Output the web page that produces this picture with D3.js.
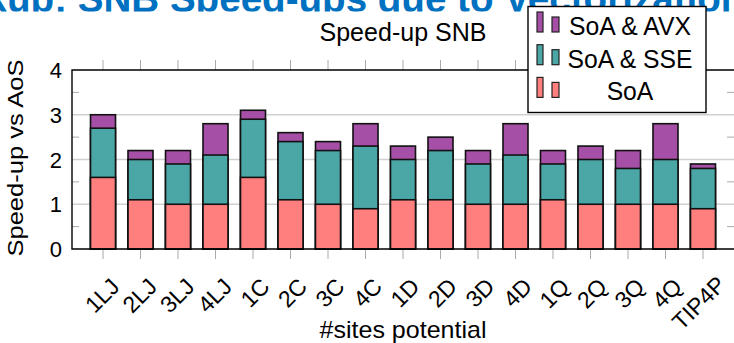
<!DOCTYPE html>
<html>
<head>
<meta charset="utf-8">
<script src="https://cdn.jsdelivr.net/npm/d3@7"></script>
<style>
  body { margin: 0; background: #fff; }
  text { font-family: "Liberation Sans", Arial, sans-serif; }
</style>
</head>
<body>
<div id="chart"></div>
<script>
// data
const categories = ["1LJ", "2LJ", "3LJ", "4LJ", "1C", "2C", "3C", "4C", "1D", "2D", "3D", "4D", "1Q", "2Q", "3Q", "4Q", "TIP4P"];
const soa    = [1.6, 1.1, 1.0, 1.0, 1.6, 1.1, 1.0, 0.9, 1.1, 1.1, 1.0, 1.0, 1.1, 1.0, 1.0, 1.0, 0.9];
const soaSse = [2.7, 2.0, 1.9, 2.1, 2.9, 2.4, 2.2, 2.3, 2.0, 2.2, 1.9, 2.1, 1.9, 2.0, 1.8, 2.0, 1.8];
const soaAvx = [3.0, 2.2, 2.2, 2.8, 3.1, 2.6, 2.4, 2.8, 2.3, 2.5, 2.2, 2.8, 2.2, 2.3, 2.2, 2.8, 1.9];
const yTicks = [0, 1, 2, 3, 4];
const seriesNames = ["SoA & AVX", "SoA & SSE", "SoA"];
const colors = ["#a64fa6", "#4ba6a6", "#ff7f7f"];

const width = 734, height = 343;
const plotLeft = 72, plotRight = 734, plotTop = 70, plotBottom = 249;

const svg = d3.select("#chart").append("svg")
  .attr("width", width)
  .attr("height", height);

// slide heading peeking in at the top (covered by the chart below y=11)
svg.append("clipPath").attr("id", "headclip")
  .append("rect").attr("x", 0).attr("y", 0).attr("width", width).attr("height", 11.5);
const head = svg.append("text")
  .attr("clip-path", "url(#headclip)")
  .attr("y", 12)
  .attr("fill", "#0070c0")
  .style("font-weight", "bold")
  .style("font-size", "100px")
  .text("SNB Speed-ups due to Vectorization");
const wRef = head.node().getComputedTextLength();
const headSize = 100 * 667 / wRef;
head.style("font-size", headSize + "px").text("kup: ");
const wKup = head.node().getComputedTextLength();
head.attr("x", 67 - wKup)
  .text("kup: SNB Speed-ups due to Vectorization");

const x = d3.scalePoint()
  .domain(categories)
  .range([plotLeft, plotRight])
  .padding(0.827);

const y = d3.scaleLinear()
  .domain([0, 4])
  .range([plotBottom, plotTop]);

const barW = 25;

// grid lines
svg.append("g")
  .selectAll("line")
  .data([1, 2, 3])
  .join("line")
  .attr("x1", plotLeft).attr("x2", plotRight)
  .attr("y1", d => y(d)).attr("y2", d => y(d))
  .attr("stroke", "#d0d0d0")
  .attr("stroke-width", 1.5);

// minor ticks left and right
const minor = [0.5, 1.5, 2.5, 3.5];
svg.append("g")
  .selectAll("line")
  .data(minor)
  .join("line")
  .attr("x1", plotLeft).attr("x2", plotLeft + 7)
  .attr("y1", d => y(d)).attr("y2", d => y(d))
  .attr("stroke", "#aaaaaa");
svg.append("g")
  .selectAll("line")
  .data(minor)
  .join("line")
  .attr("x1", plotRight - 7).attr("x2", plotRight)
  .attr("y1", d => y(d)).attr("y2", d => y(d))
  .attr("stroke", "#aaaaaa");

// x ticks top and bottom (outside)
svg.append("g")
  .selectAll("line")
  .data(categories)
  .join("line")
  .attr("x1", d => x(d)).attr("x2", d => x(d))
  .attr("y1", plotTop - 10).attr("y2", plotTop)
  .attr("stroke", "#aaaaaa");
svg.append("g")
  .selectAll("line")
  .data(categories)
  .join("line")
  .attr("x1", d => x(d)).attr("x2", d => x(d))
  .attr("y1", plotBottom).attr("y2", plotBottom + 10)
  .attr("stroke", "#aaaaaa");

// bars: drawn tallest first so the borders show
const series = [soaAvx, soaSse, soa];
series.forEach(function(vals, k) {
  svg.append("g")
    .selectAll("rect")
    .data(categories)
    .join("rect")
    .attr("x", d => x(d) - barW / 2)
    .attr("y", (d, i) => y(vals[i]))
    .attr("width", barW)
    .attr("height", (d, i) => y(0) - y(vals[i]))
    .attr("fill", colors[k])
    .attr("stroke", "#111")
    .attr("stroke-width", 1.6);
});

// frame
svg.append("path")
  .attr("d", `M${plotRight},${plotTop}H${plotLeft}V${plotBottom}H${plotRight}`)
  .attr("fill", "none")
  .attr("stroke", "#000")
  .attr("stroke-width", 1.4);

// y tick labels
svg.append("g")
  .selectAll("text")
  .data(yTicks)
  .join("text")
  .attr("x", 62)
  .attr("y", d => y(d) + 8)
  .attr("text-anchor", "end")
  .style("font-size", "22px")
  .text(d => d);

// x tick labels, rotated
svg.append("g")
  .selectAll("text")
  .data(categories)
  .join("text")
  .attr("text-anchor", "end")
  .attr("transform", d => {
    const last = d === "TIP4P";
    return `translate(${x(d) + 18 + (last ? 6 : 0)},${288 - (last ? 2 : 0)}) rotate(-45)`;
  })
  .style("font-size", "23px")
  .text(d => d);

// axis titles
svg.append("text")
  .attr("x", 403).attr("y", 338)
  .attr("text-anchor", "middle")
  .attr("textLength", 167).attr("lengthAdjust", "spacingAndGlyphs")
  .style("font-size", "24px")
  .text("#sites potential");

svg.append("text")
  .attr("transform", "translate(23,158) rotate(-90)")
  .attr("text-anchor", "middle")
  .attr("textLength", 197).attr("lengthAdjust", "spacingAndGlyphs")
  .style("font-size", "22px")
  .text("Speed-up vs AoS");

svg.append("text")
  .attr("x", 403).attr("y", 41)
  .attr("text-anchor", "middle")
  .attr("textLength", 167).attr("lengthAdjust", "spacingAndGlyphs")
  .style("font-size", "25px")
  .text("Speed-up SNB");

// legend
const legend = svg.append("g");
legend.append("rect")
  .attr("x", 528).attr("y", 6.5)
  .attr("width", 178).attr("height", 106)
  .attr("fill", "#fff")
  .attr("stroke", "#000")
  .attr("stroke-width", 1.4);

const rows = legend.selectAll("g.row")
  .data(seriesNames)
  .join("g")
  .attr("class", "row")
  .attr("transform", (d, i) => `translate(0,${32 + i * 32.7})`);

rows.append("rect")
  .attr("x", 537).attr("y", -20)
  .attr("width", 6).attr("height", 20)
  .attr("fill", (d, i) => colors[i])
  .attr("stroke", "#222").attr("stroke-width", 1.2);
rows.append("rect")
  .attr("x", 552).attr("y", -15)
  .attr("width", 7).attr("height", 15)
  .attr("fill", (d, i) => colors[i])
  .attr("stroke", "#222").attr("stroke-width", 1.2);
rows.append("text")
  .attr("x", 630).attr("y", 3)
  .attr("text-anchor", "middle")
  .style("font-size", "26px")
  .text(d => d)
  .each(function() {
    const w = this.getComputedTextLength();
    d3.select(this).attr("textLength", w * 0.95).attr("lengthAdjust", "spacingAndGlyphs");
  });
</script>
</body>
</html>
